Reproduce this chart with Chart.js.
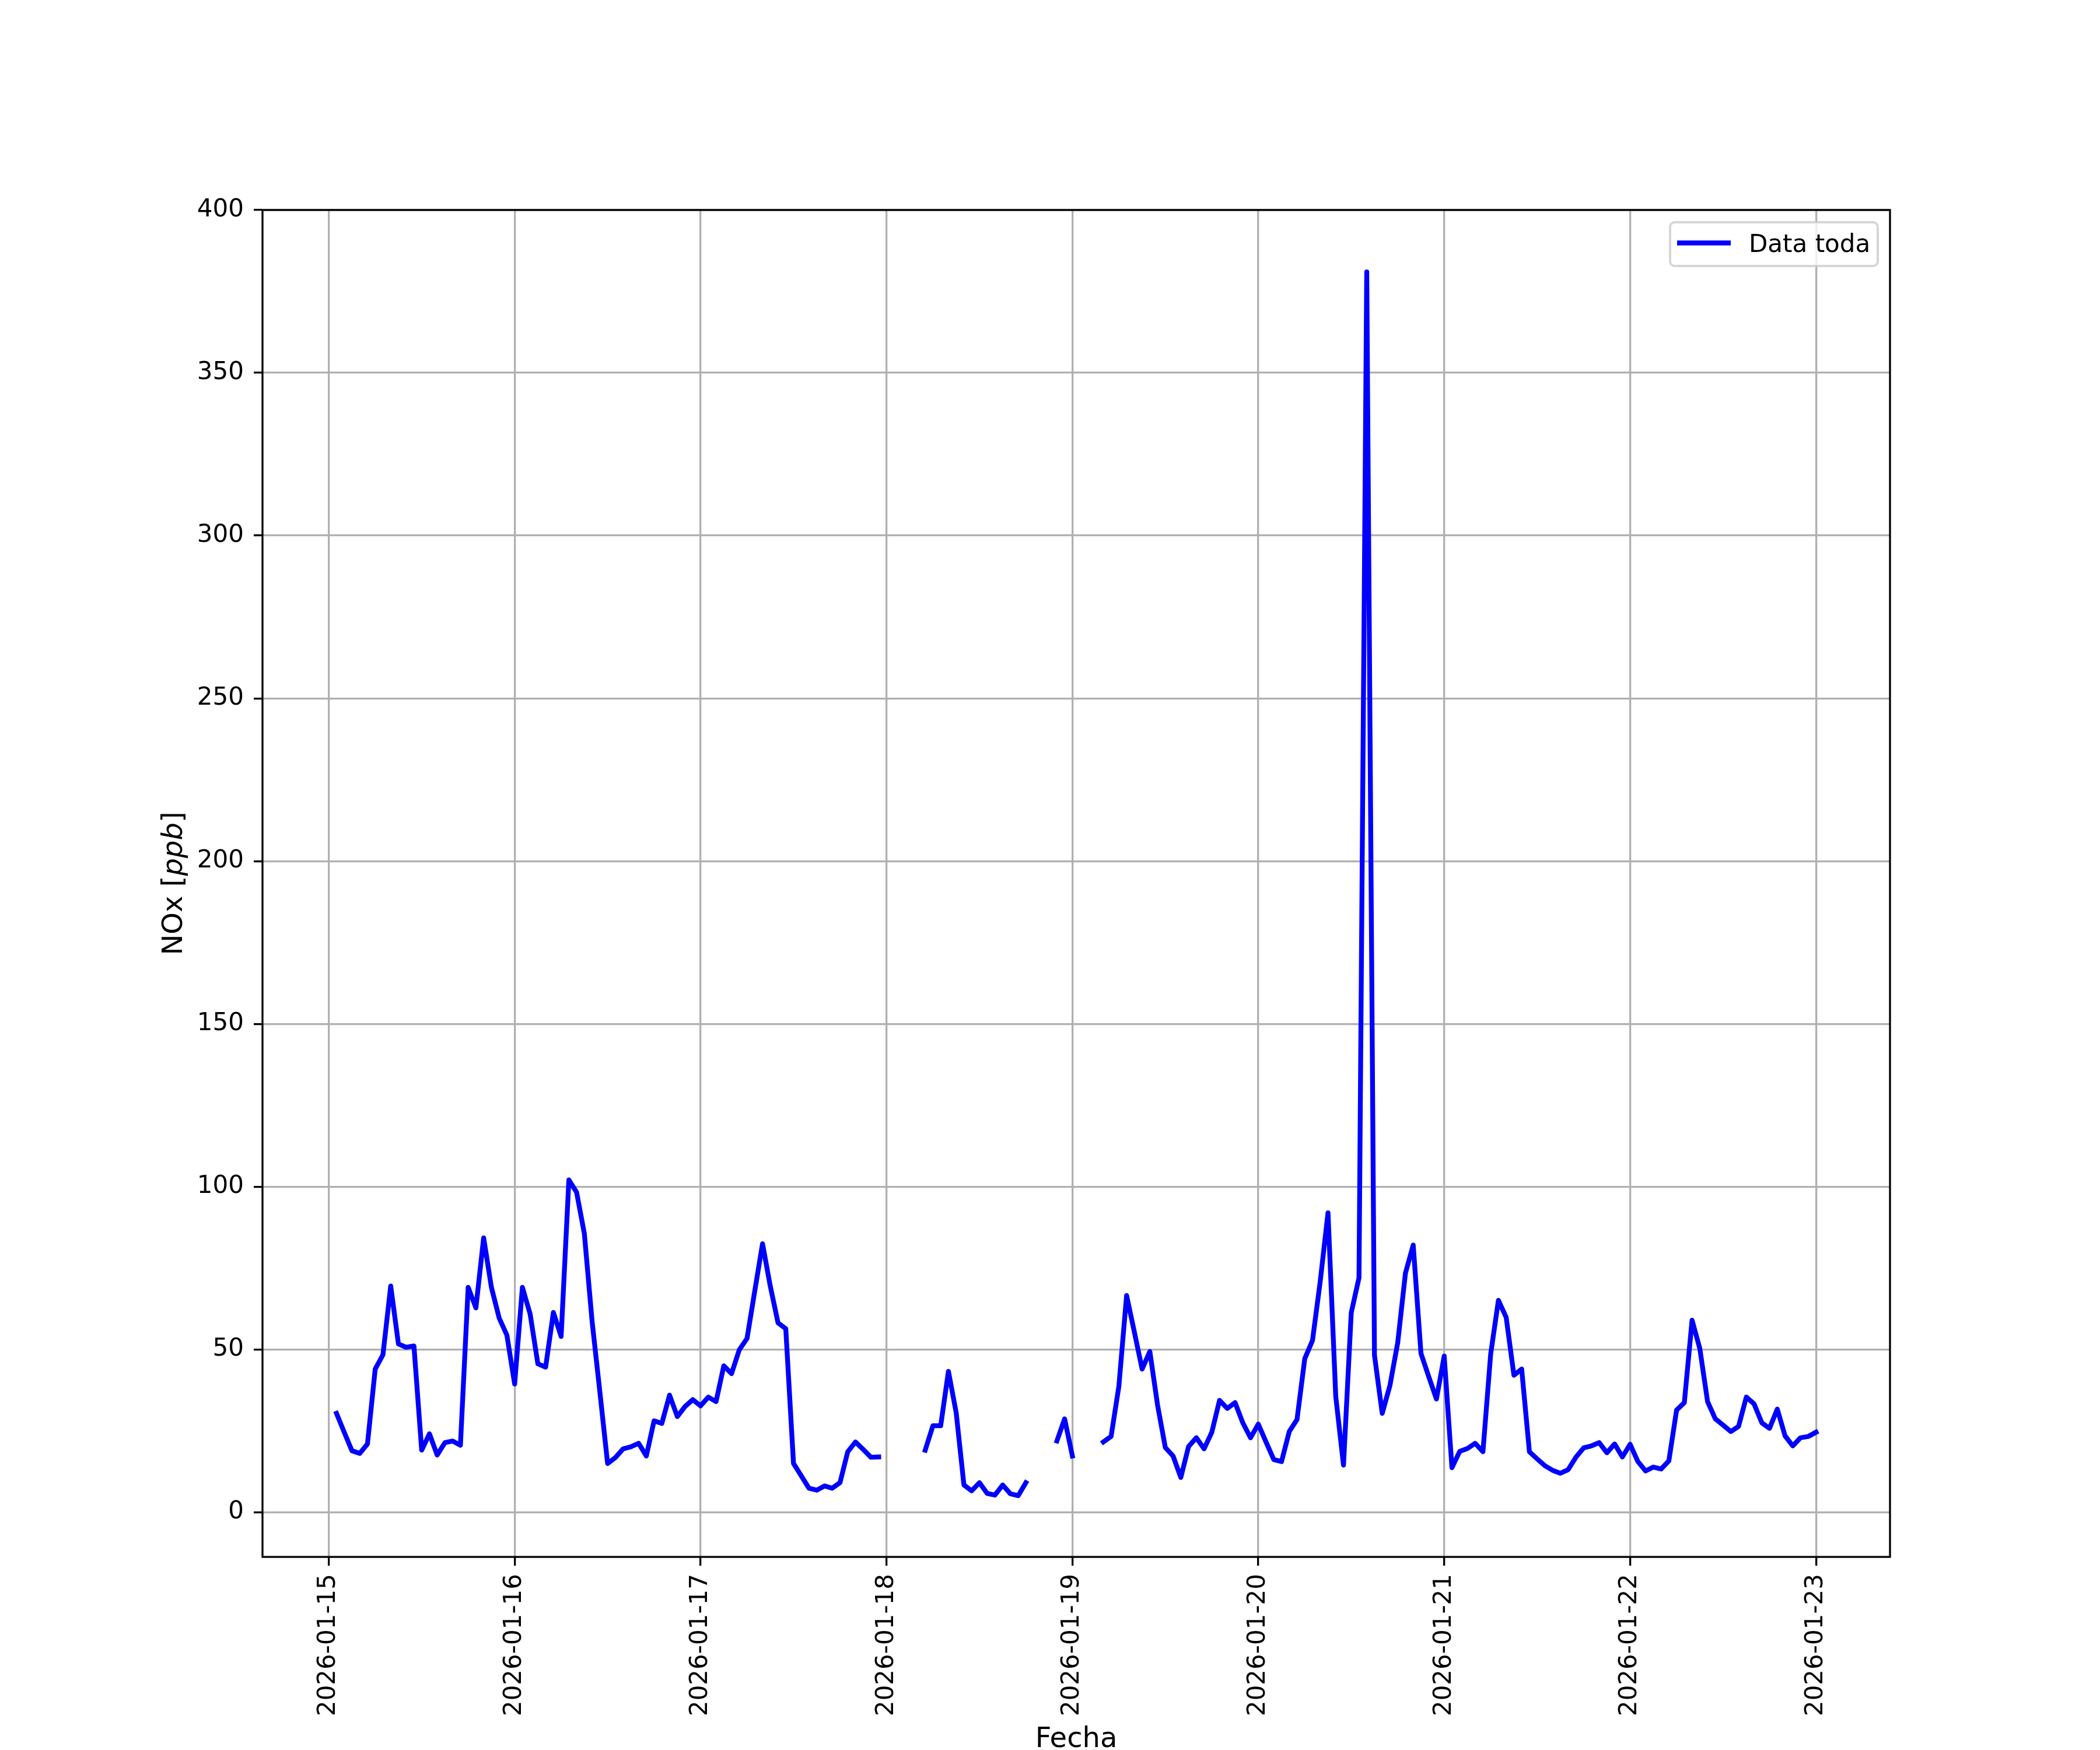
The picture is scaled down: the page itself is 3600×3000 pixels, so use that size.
<!DOCTYPE html>
<html>
<head>
<meta charset="utf-8">
<script src="https://cdn.jsdelivr.net/npm/chart.js@4.4.1/dist/chart.umd.min.js"></script>
<style>
  body { margin: 0; background: #fff; }
  canvas { display: block; }
</style>
</head>
<body>
<canvas id="grafico" width="3600" height="3000" style="width:3600px;height:3000px"></canvas>
<script>
// horas desde 2026-01-15 00:00 en las que se ponen las fechas del eje x
const ticksX = [0, 24, 48, 72, 96, 120, 144, 168, 192];
const fechas = ['2026-01-15', '2026-01-16', '2026-01-17', '2026-01-18', '2026-01-19',
  '2026-01-20', '2026-01-21', '2026-01-22', '2026-01-23'];
const ticksY = [0, 50, 100, 150, 200, 250, 300, 350, 400];

// NOx horario [ppb], hora 1 a 192 (null = sin dato)
const nox = [
  30.4, 24.6, 18.9, 18.1, 21.0, 44.0, 48.4, 69.5, 51.7, 50.7, 51.1, 19.1, 24.1, 17.6, 21.4, 21.9, 20.6, 69.1, 62.8, 84.3, 69.1, 59.7, 54.4, 39.4,
  69.1, 60.9, 45.6, 44.6, 61.4, 54.0, 102.1, 98.3, 85.6, 58.6, 37.0, 15.0, 16.8, 19.5, 20.1, 21.2, 17.3, 28.1, 27.3, 36.0, 29.4, 32.5, 34.6, 32.7,
  35.4, 34.0, 45.0, 42.6, 49.9, 53.4, 68.0, 82.5, 69.5, 58.2, 56.4, 15.0, 11.2, 7.4, 6.8, 8.1, 7.4, 9.1, 18.6, 21.6, 19.3, 16.9, 17.0, null,
  null, null, null, null, 19.1, 26.6, 26.6, 43.3, 30.6, 8.4, 6.6, 9.1, 5.8, 5.3, 8.4, 5.7, 5.1, 9.1, null, null, null, 21.9, 28.7, 17.3,
  null, null, null, 21.6, 23.3, 38.7, 66.6, 55.4, 44.0, 49.4, 32.9, 19.9, 17.3, 10.7, 20.2, 22.9, 19.5, 24.6, 34.4, 31.9, 33.7, 27.5, 22.9, 27.1,
  21.6, 16.2, 15.6, 24.8, 28.5, 47.2, 52.8, 71.0, 92.0, 35.6, 14.5, 61.3, 72.0, 381.0, 48.2, 30.4, 39.0, 52.1, 73.5, 82.1, 48.8, 41.7, 34.8, 48.0,
  13.7, 18.7, 19.6, 21.2, 18.6, 48.6, 65.1, 59.9, 42.1, 44.0, 18.6, 16.4, 14.3, 12.9, 12.0, 13.1, 16.9, 19.8, 20.4, 21.4, 18.3, 21.0, 17.0, 20.9,
  15.6, 12.7, 13.9, 13.3, 15.8, 31.4, 33.7, 59.0, 50.3, 34.0, 28.7, 26.8, 24.8, 26.4, 35.4, 33.3, 27.5, 25.8, 31.7, 23.5, 20.4, 22.9, 23.3, 24.6
];
const horas = nox.map((_, i) => i + 1);

const FUENTE = 'DejaVu Sans';

// marco, leyenda y titulos de ejes al estilo matplotlib
const extras = {
  id: 'extras',
  afterDatasetsDraw(chart) {
    const { ctx, chartArea: a } = chart;
    ctx.save();
    ctx.strokeStyle = '#000';
    ctx.lineWidth = 3.3;
    ctx.strokeRect(a.left, a.top, a.right - a.left, a.bottom - a.top);
    ctx.restore();
  },
  afterDraw(chart) {
    const { ctx, chartArea: a } = chart;
    const ds = chart.data.datasets[0];
    ctx.save();

    // leyenda
    const w = 356, h = 75;
    const x0 = a.right - 21 - w, y0 = a.top + 21;
    ctx.beginPath();
    ctx.roundRect(x0, y0, w, h, 8);
    ctx.fillStyle = 'rgba(255,255,255,0.8)';
    ctx.fill();
    ctx.strokeStyle = 'rgba(204,204,204,0.8)';
    ctx.lineWidth = 4;
    ctx.stroke();
    const yc = y0 + h / 2 - 2;
    ctx.beginPath();
    ctx.moveTo(x0 + 12, yc);
    ctx.lineTo(x0 + 104, yc);
    ctx.strokeStyle = ds.borderColor;
    ctx.lineWidth = ds.borderWidth;
    ctx.stroke();
    ctx.fillStyle = '#000';
    ctx.font = '42px "' + FUENTE + '"';
    ctx.textBaseline = 'alphabetic';
    ctx.textAlign = 'left';
    ctx.fillText(ds.label, x0 + 135, yc + 15);

    // titulo eje x
    ctx.font = '48px "' + FUENTE + '"';
    ctx.textAlign = 'center';
    ctx.fillText('Fecha', (a.left + a.right) / 2, 2995);

    // titulo eje y: NOx [ppb] con ppb en cursiva
    const partes = [
      ['NOx [', '48px "' + FUENTE + '"'],
      ['ppb', 'italic 48px "' + FUENTE + '"'],
      [']', '48px "' + FUENTE + '"']
    ];
    let total = 0;
    partes.forEach(([t, f]) => { ctx.font = f; total += ctx.measureText(t).width; });
    ctx.translate(312, (a.top + a.bottom) / 2);
    ctx.rotate(-Math.PI / 2);
    ctx.textAlign = 'left';
    let u = -total / 2;
    partes.forEach(([t, f]) => {
      ctx.font = f;
      ctx.fillText(t, u, 0);
      u += ctx.measureText(t).width;
    });
    ctx.restore();
  }
};

new Chart(document.getElementById('grafico'), {
  type: 'line',
  data: {
    datasets: [
      {
        label: 'Data toda',
        data: horas.map((hr, i) => ({ x: hr, y: nox[i] })),
        borderColor: '#0000ff',
        borderWidth: 8.3,
        borderCapStyle: 'square',
        borderJoinStyle: 'round',
        pointRadius: 0,
        tension: 0,
        spanGaps: false,
        fill: false,
      },
    ],
  },
  options: {
    responsive: false,
    animation: false,
    devicePixelRatio: 1,
    layout: { padding: { left: 0, top: 360, right: 360, bottom: 0 } },
    plugins: {
      legend: { display: false },
      tooltip: { enabled: false },
    },
    scales: {
      x: {
        type: 'linear',
        min: -8.55,
        max: 201.55,
        afterBuildTicks: (axis) => { axis.ticks = ticksX.map((v) => ({ value: v })); },
        afterFit: (axis) => { axis.height = 331; },
        ticks: {
          autoSkip: false,
          minRotation: 90,
          maxRotation: 90,
          padding: 14,
          color: '#000',
          font: { family: FUENTE, size: 42 },
          callback: (v, i) => fechas[i],
        },
        grid: { color: '#b0b0b0', lineWidth: 3.3, tickColor: '#000', tickWidth: 3.3, tickLength: 15 },
        border: { display: false },
      },
      y: {
        min: -13.7,
        max: 400,
        afterBuildTicks: (axis) => { axis.ticks = ticksY.map((v) => ({ value: v })); },
        afterFit: (axis) => { axis.width = 450; },
        ticks: {
          padding: 17,
          color: '#000',
          font: { family: FUENTE, size: 42 },
        },
        grid: { color: '#b0b0b0', lineWidth: 3.3, tickColor: '#000', tickWidth: 3.3, tickLength: 15 },
        border: { display: false },
      },
    },
  },
  plugins: [extras],
});
</script>
</body>
</html>
